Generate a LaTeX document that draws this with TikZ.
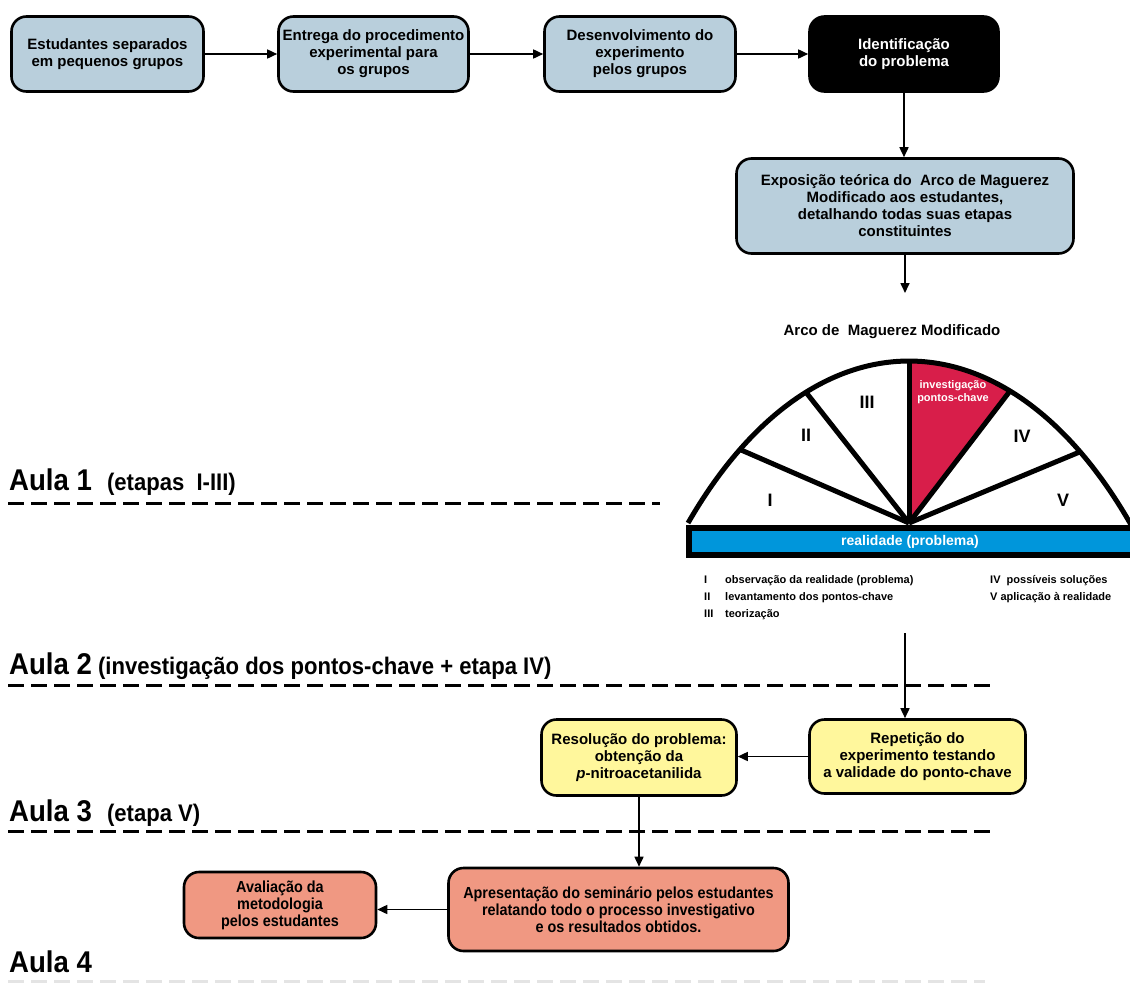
\documentclass[tikz,border=0pt]{standalone}
\usepackage{fontspec}
\setmainfont{Liberation Sans}
\newfontfamily\aulafont[FakeStretch=0.92]{Liberation Sans}
\newfontfamily\narrowfont[FakeStretch=0.9]{Liberation Sans}
\usetikzlibrary{arrows.meta}
\definecolor{boxblue}{RGB}{185,207,220}
\definecolor{boxyellow}{RGB}{255,247,156}
\definecolor{boxsalmon}{RGB}{240,152,130}
\definecolor{crimson}{RGB}{216,30,74}
\definecolor{barblue}{RGB}{0,150,219}
\definecolor{faintgray}{RGB}{228,228,228}
\begin{document}
\begin{tikzpicture}[x=1pt,y=-1pt,
  box/.style={draw=black, line width=2.6pt, rounded corners=15pt, align=center,
    font=\bfseries\fontsize{15}{17}\selectfont, inner sep=0pt},
  nbox/.style={box, font=\narrowfont\bfseries\fontsize{16}{17}\selectfont},
  arr/.style={line width=1.6pt, -{Triangle[length=10pt,width=9pt]}},
  aula/.style={anchor=base west, inner sep=0pt},
  sepline/.style={line width=3pt, dash pattern=on 16pt off 7pt},
  spoke/.style={line width=5pt},
  numeral/.style={font=\bfseries\fontsize{18}{20}\selectfont, inner sep=0pt},
  legend/.style={font=\bfseries\fontsize{11}{13}\selectfont, anchor=base west, inner sep=0pt},
  arcr/.style={x radius=323.8, y radius=602},
]
\useasboundingbox (0,0) rectangle (1130,983);
\clip (0,0) rectangle (1130,983);

% top row
\node[box, fill=boxblue, minimum width=192pt, minimum height=75pt] (b1) at (107.5,54) {Estudantes separados\\em pequenos grupos};
\node[box, fill=boxblue, minimum width=190pt, minimum height=75pt] (b2) at (373.5,54) {Entrega do procedimento\\experimental para\\os grupos};
\node[box, fill=boxblue, minimum width=191pt, minimum height=75pt] (b3) at (640,54) {Desenvolvimento do\\experimento\\pelos grupos};
\node[box, fill=black, text=white, minimum width=189pt, minimum height=75pt] (b4) at (904,54) {Identifica\c{c}\~ao\\do problema};
\node[box, fill=boxblue, minimum width=337pt, minimum height=95pt] (b5) at (905,206) {Exposi\c{c}\~ao te\'orica do\ \ Arco de Maguerez\\Modificado aos estudantes,\\detalhando todas suas etapas\\constituintes};

\draw[arr] (b1.east) -- (b2.west);
\draw[arr] (b2.east) -- (b3.west);
\draw[arr] (b3.east) -- (b4.west);
\draw[arr] (b4.south) -- (b4.south |- b5.north);
\coordinate (e5) at (905,293);
\draw[arr] (b5.south) -- (e5);

% title
\node[font=\bfseries\fontsize{15}{17}\selectfont] (title) at (892,332) {Arco de\ \ Maguerez Modificado};

% arc (segment of a tall ellipse)
\coordinate (O) at (909,523);
\coordinate (C) at (909,963);
\path (C) ++(-133.04:323.8 and 602) coordinate (pL);
\path (C) ++(-121.46:323.8 and 602) coordinate (p1);
\path (C) ++(-108.55:323.8 and 602) coordinate (p2);
\path (C) ++(-90:323.8 and 602) coordinate (p3);
\path (C) ++(-71.83:323.8 and 602) coordinate (p4);
\path (C) ++(-58.12:323.8 and 602) coordinate (p5);
\fill[crimson] (O) -- (p3) arc[start angle=-90, end angle=-71.83, arcr] -- cycle;
\draw[spoke] (O) -- (p1);
\draw[spoke] (O) -- (p2);
\draw[spoke] (O) -- (p3);
\draw[spoke] (O) -- (p4);
\draw[spoke] (O) -- (p5);
\draw[line width=5pt] (pL) arc[start angle=-133.04, end angle=-45, arcr];
\filldraw[fill=barblue, draw=black, line width=6pt] (689,528) rectangle (1140,555);
\node[font=\bfseries\fontsize{14}{16}\selectfont, text=white] (real) at (910,542) {realidade (problema)};

\node[numeral] (nI) at (770,500) {I};
\node[numeral] (nII) at (806,435) {II};
\node[numeral] (nIII) at (867,402) {III};
\node[numeral] (nIV) at (1022,436) {IV};
\node[numeral] (nV) at (1063,500) {V};
\node[font=\bfseries\fontsize{11}{13}\selectfont, text=white, align=center, inner sep=0pt] (inv) at (953,392) {investiga\c{c}\~ao\\pontos-chave};

% legend
\node[legend] (lI) at (704,583) {I};
\node[legend] (lII) at (704,600) {II};
\node[legend] (lIII) at (704,617) {III};
\node[legend] (tI) at (725,583) {observa\c{c}\~ao da realidade (problema)};
\node[legend] (tII) at (725,600) {levantamento dos pontos-chave};
\node[legend] (tIII) at (725,617) {teoriza\c{c}\~ao};
\node[legend] (tIV) at (990,583) {IV\ \ poss\'iveis solu\c{c}\~oes};
\node[legend] (tV) at (990,600) {V aplica\c{c}\~ao \`a realidade};

% lower part
\node[box, fill=boxyellow, minimum width=216pt, minimum height=74pt] (yR) at (917.5,756.5) {Repeti\c{c}\~ao do\\experimento testando\\a validade do ponto-chave};
\node[box, fill=boxyellow, minimum width=195pt, minimum height=76pt] (yL) at (639,757.5) {Resolu\c{c}\~ao do problema:\\obten\c{c}\~ao da\\\textit{p}-nitroacetanilida};
\node[nbox, fill=boxsalmon, minimum width=340pt, minimum height=83pt] (sR) at (618.5,909.5) {Apresenta\c{c}\~ao do semin\'ario pelos estudantes\\relatando todo o processo investigativo\\e os resultados obtidos.};
\node[nbox, fill=boxsalmon, minimum width=192pt, minimum height=66pt] (sL) at (280,905) {Avalia\c{c}\~ao da\\metodologia\\pelos estudantes};

\coordinate (s6) at (905,633);
\draw[arr] (s6) -- (s6 |- yR.north);
\draw[arr] (yR.west) -- (yR.west -| yL.east);
\draw[arr] (yL.south) -- (yL.south |- sR.north);
\draw[arr] (sR.west) -- (sR.west -| sL.east);

% aula labels
\node[aula] (a1) at (9,490) {\aulafont\bfseries\fontsize{30}{32}\selectfont Aula 1\hspace{15pt}\fontsize{24}{26}\selectfont(etapas\ \ I-III)};
\draw[sepline] (8,503) -- (660,503);
\node[aula] (a2) at (9,674) {\aulafont\bfseries\fontsize{30}{32}\selectfont Aula 2\hspace{6pt}\fontsize{24}{26}\selectfont(investiga\c{c}\~ao dos pontos-chave + etapa IV)};
\draw[sepline] (8,685) -- (997,685);
\node[aula] (a3) at (9,821) {\aulafont\bfseries\fontsize{30}{32}\selectfont Aula 3\hspace{15pt}\fontsize{24}{26}\selectfont(etapa V)};
\draw[sepline] (8,831) -- (997,831);
\node[aula] (a4) at (9,972) {\aulafont\bfseries\fontsize{30}{32}\selectfont Aula 4};
\draw[sepline, draw=faintgray] (8,981) -- (985,981);
\end{tikzpicture}
\end{document}
